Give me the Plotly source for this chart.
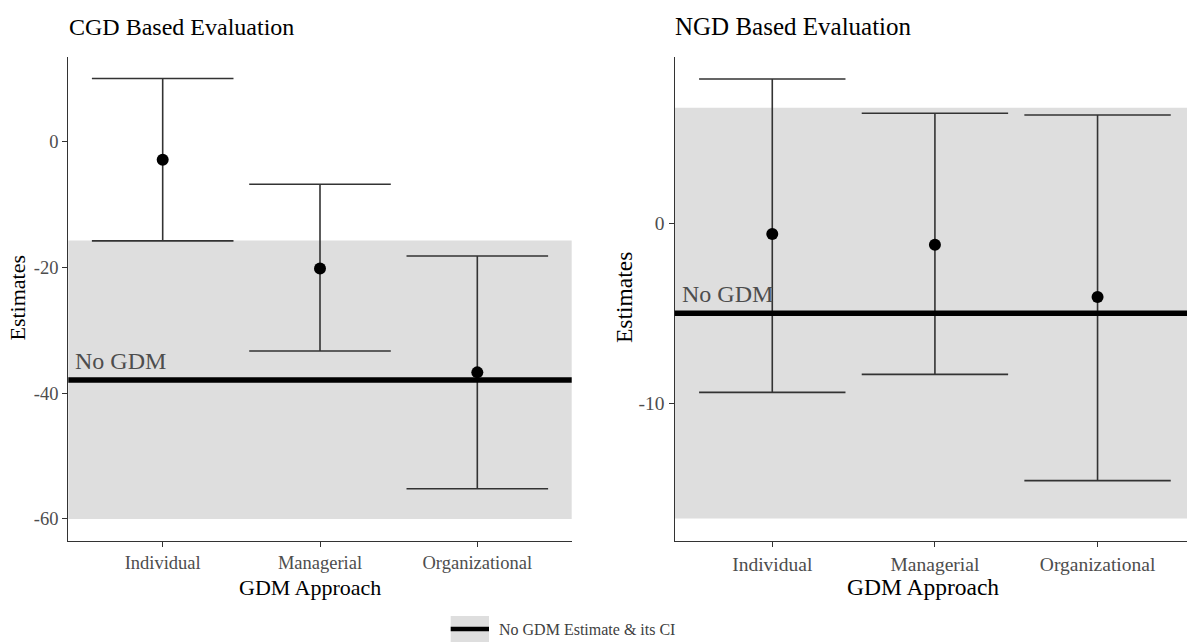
import plotly.graph_objects as go

# ---------------- data ----------------
categories = ["Individual", "Managerial", "Organizational"]

cgd_est = [-2.9, -20.2, -36.7]
cgd_low = [-15.8, -33.3, -55.2]
cgd_high = [10.0, -6.8, -18.2]
cgd_nogdm_est = -37.9
cgd_nogdm_low = -60.0
cgd_nogdm_high = -15.75
cgd_ytick_vals = [-60, -40, -20, 0]
cgd_ytick_text = ["-60", "-40", "-20", "0"]

ngd_est = [-0.6, -1.2, -4.1]
ngd_low = [-9.4, -8.4, -14.3]
ngd_high = [8.0, 6.1, 6.0]
ngd_nogdm_est = -5.0
ngd_nogdm_low = -16.4
ngd_nogdm_high = 6.4
ngd_ytick_vals = [-10, 0]
ngd_ytick_text = ["-10", "0"]

panel_titles = ["CGD Based Evaluation", "NGD Based Evaluation"]
x_title = "GDM Approach"
y_title = "Estimates"
ref_label = "No GDM"
legend_label = "No GDM Estimate & its CI"

# ---------------- figure ----------------
W, H = 1187, 644
SERIF = "Liberation Serif, Times New Roman, serif"
fig = go.Figure()

def px_x(p):
    return p / W

def px_y(p):
    return 1 - p / H

panels = [
    dict(est=cgd_est, lo=cgd_low, hi=cgd_high, ref=cgd_nogdm_est, rlo=cgd_nogdm_low,
         rhi=cgd_nogdm_high, xa="x", ya="y", cap=70.8, tick_size=18.5, title_size=24,
         axtitle_size=22, dom=[px_x(68.3), px_x(571.7)], xr=[-0.6, 2.6], yr=[-63.5, 13.5],
         tv=cgd_ytick_vals, tt=cgd_ytick_text, title_x=67, ytitle_x=17.5, xtitle_x=310),
    dict(est=ngd_est, lo=ngd_low, hi=ngd_high, ref=ngd_nogdm_est, rlo=ngd_nogdm_low,
         rhi=ngd_nogdm_high, xa="x2", ya="y2", cap=73.2, tick_size=19.5, title_size=25,
         axtitle_size=23.5, dom=[px_x(674.7), 1.0], xr=[-0.6, 2.55], yr=[-17.65, 9.25],
         tv=ngd_ytick_vals, tt=ngd_ytick_text, title_x=673, ytitle_x=624, xtitle_x=923),
]

ydom = [px_y(541), px_y(56.5)]
shapes = []
annotations = []

for i, p in enumerate(panels):
    err_plus = [h - e for h, e in zip(p["hi"], p["est"])]
    err_minus = [e - l for e, l in zip(p["est"], p["lo"])]
    fig.add_trace(go.Scatter(
        x=categories, y=p["est"], mode="markers", xaxis=p["xa"], yaxis=p["ya"],
        marker=dict(color="black", size=12),
        error_y=dict(type="data", symmetric=False, array=err_plus, arrayminus=err_minus,
                     color="#333333", thickness=1.6, width=p["cap"]),
        showlegend=False, hoverinfo="skip",
    ))
    xref_dom = p["xa"] + " domain"
    # CI band of reference
    shapes.append(dict(type="rect", xref=xref_dom, yref=p["ya"], x0=0, x1=1,
                       y0=p["rlo"], y1=p["rhi"], fillcolor="#dedede",
                       line=dict(width=0), layer="below"))
    # reference line
    shapes.append(dict(type="line", xref=xref_dom, yref=p["ya"], x0=0, x1=1,
                       y0=p["ref"], y1=p["ref"], line=dict(color="black", width=5.5),
                       layer="above"))
    annotations.append(dict(text=ref_label, xref=xref_dom, yref=p["ya"], x=0.01,
                            y=p["ref"], xanchor="left", yanchor="bottom", yshift=4,
                            showarrow=False, font=dict(family=SERIF, size=24, color="#4d4d4d")))
    # panel title
    annotations.append(dict(text=panel_titles[i], xref="paper", yref="paper",
                            x=px_x(p["title_x"]), y=px_y(27), xanchor="left", yanchor="middle",
                            showarrow=False, font=dict(family=SERIF, size=p["title_size"], color="black")))
    # y title
    annotations.append(dict(text=y_title, xref="paper", yref="paper", textangle=-90,
                            x=px_x(p["ytitle_x"]), y=px_y(298), xanchor="center", yanchor="middle",
                            showarrow=False, font=dict(family=SERIF, size=p["axtitle_size"], color="black")))
    # x title
    annotations.append(dict(text=x_title, xref="paper", yref="paper",
                            x=px_x(p["xtitle_x"]), y=px_y(587), xanchor="center", yanchor="middle",
                            showarrow=False, font=dict(family=SERIF, size=p["axtitle_size"], color="black")))

    axis_common = dict(showline=True, linecolor="#333333", linewidth=1.4, ticks="outside",
                       ticklen=5, tickcolor="#333333", tickwidth=1.3, showgrid=False,
                       zeroline=False, tickfont=dict(family=SERIF, size=p["tick_size"], color="#4d4d4d"))
    xkey = "xaxis" if i == 0 else "xaxis2"
    ykey = "yaxis" if i == 0 else "yaxis2"
    fig.update_layout(**{
        xkey: dict(axis_common, domain=p["dom"], range=p["xr"], anchor=p["ya"],
                   type="category", categoryorder="array", categoryarray=categories),
        ykey: dict(axis_common, domain=ydom, range=p["yr"], anchor=p["xa"],
                   tickmode="array", tickvals=p["tv"], ticktext=p["tt"]),
    })

# bottom legend (decoration)
shapes.append(dict(type="rect", xref="paper", yref="paper", x0=px_x(450.7), x1=px_x(489),
                   y0=px_y(642), y1=px_y(616), fillcolor="#dedede", line=dict(width=0)))
shapes.append(dict(type="line", xref="paper", yref="paper", x0=px_x(450.7), x1=px_x(489),
                   y0=px_y(629), y1=px_y(629), line=dict(color="black", width=4.5)))
annotations.append(dict(text=legend_label, xref="paper", yref="paper", x=px_x(496.5), y=px_y(629),
                        xanchor="left", yanchor="middle", showarrow=False,
                        font=dict(family=SERIF, size=16, color="#404040")))

fig.update_layout(
    width=W, height=H, autosize=False,
    margin=dict(l=0, r=0, t=0, b=0),
    paper_bgcolor="white", plot_bgcolor="white",
    shapes=shapes, annotations=annotations, showlegend=False,
)

fig.write_html("out.html")
